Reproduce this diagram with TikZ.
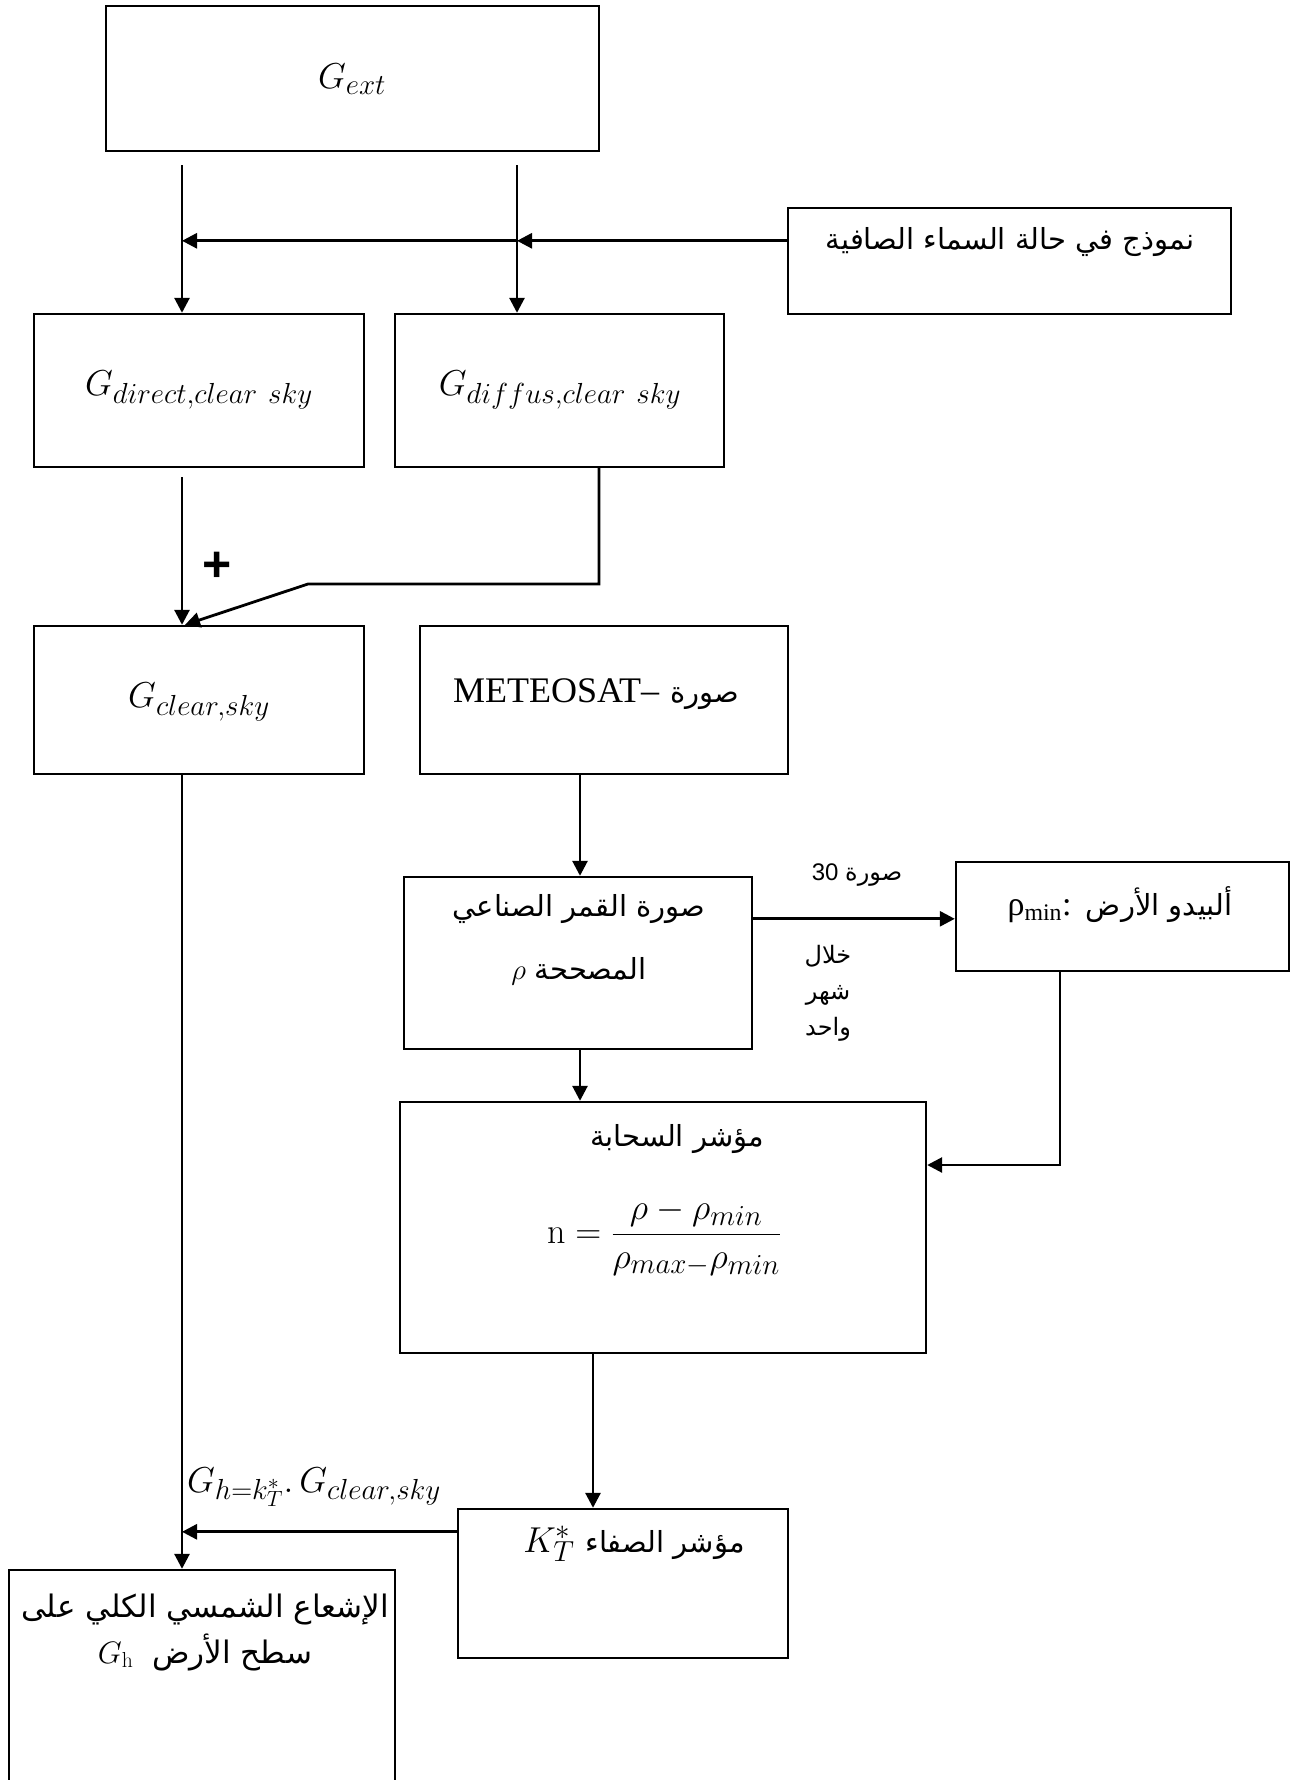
\RequirePackage{fix-cm}
\documentclass[tikz,border=0pt]{standalone}
\usepackage{fontspec}
\usetikzlibrary{arrows.meta,calc}
\TeXXeTstate=1
\newfontfamily\arabicfont[Script=Arabic]{DejaVu Sans}
\newfontfamily\timesfont{Liberation Serif}
\newfontfamily\arialfont{Liberation Sans}
\newfontfamily\arialbold{Liberation Sans Bold}
\DeclareMathSizes{36}{36}{29}{22}
\newcommand{\artxt}[1]{{\fontsize{29}{40}\arabicfont\beginR #1\endR}}
\newcommand{\arbig}[1]{{\fontsize{31}{40}\arabicfont\beginR #1\endR}}
\newcommand{\arsmall}[1]{{\fontsize{24}{30}\arabicfont\beginR #1\endR}}
\tikzset{
  box/.style={draw, line width=2.4pt, rectangle, inner sep=0pt},
  txt/.style={inner sep=0pt, align=center, font=\fontsize{36}{40}\selectfont},
  arr/.style={line width=2.8pt, -{Triangle[length=15pt,width=15pt]}},
}
\begin{document}
\begin{tikzpicture}[x=1pt,y=-1pt]
\useasboundingbox (0,0) rectangle (1292,1780);
\clip (0,0) rectangle (1292,1780);
% boxes
\node[box, minimum width=493pt, minimum height=145pt] (gext) at (352.5,78.5) {};
\node[box, minimum width=443pt, minimum height=106pt] (model) at (1009.5,261) {};
\node[box, minimum width=330pt, minimum height=153pt] (gdir) at (199,390.5) {};
\node[box, minimum width=329pt, minimum height=153pt] (gdif) at (559.5,390.5) {};
\node[box, minimum width=330pt, minimum height=148pt] (gclear) at (199,700) {};
\node[box, minimum width=368pt, minimum height=148pt] (meteo) at (604,700) {};
\node[box, minimum width=348pt, minimum height=172pt] (corr) at (578,963) {};
\node[box, minimum width=333pt, minimum height=109pt] (rhomin) at (1122.5,916.5) {};
\node[box, minimum width=526pt, minimum height=251pt] (cloud) at (663,1227.5) {};
\node[box, minimum width=330pt, minimum height=149pt] (kt) at (623,1583.5) {};
\node[box, minimum width=386pt, minimum height=300pt] (final) at (202,1720) {};
% texts
\node[txt] (tgext) at (352,79) {$G_{ext}$};
\node[txt] (tmodel) at (1010,242) {\artxt{نموذج في حالة السماء الصافية}};
\node[txt] (tgdir) at (199,390) {$G_{direct,clear\ sky}$};
\node[txt] (tgdif) at (560,390) {$G_{diffus,clear\ sky}$};
\node[txt, font=\fontsize{50}{52}\arialbold] (plus) at (217,567) {+};
\node[txt] (tgclear) at (199,702) {$G_{clear,sky}$};
\node[txt] (tmeteo) at (596,694) {{\fontsize{36}{40}\timesfont METEOSAT–} \artxt{صورة}};
\node[txt, font=\fontsize{29}{63}\selectfont] (tcorr) at (579,940) {\artxt{صورة القمر الصناعي}\\ $\rho$ \artxt{المصححة}};
\node[txt] (trho) at (1120,905) {{\fontsize{34}{36}\timesfont ρ\textsubscript{min}:} \artxt{ألبيدو الأرض}};
\node[txt, font=\fontsize{24}{30}\arialfont] (t30) at (857,875) {30 \arsmall{صورة}};
\node[txt, font=\fontsize{24}{36}\selectfont] (tmonth) at (828,993) {\arsmall{خلال}\\ \arsmall{شهر}\\ \arsmall{واحد}};
\node[txt] (tcloud) at (677,1139) {\artxt{مؤشر السحابة}};
\node[txt] (tfrac) at (664,1237) {$\displaystyle \mathrm{n}=\frac{\rho-\rho_{min}}{\rho_{max-}\rho_{min}}$};
\node[txt] (tkt) at (634,1544) {$K_T^*$\ \artxt{مؤشر الصفاء}};
\node[txt] (tgh) at (314,1487) {$G_{h=k_T^*}.\,G_{clear,sky}$};
\node[txt, font=\fontsize{31}{46}\selectfont] (tfinal) at (205,1632) {\arbig{الإشعاع الشمسي الكلي على}\\ $G_{\mathrm{h}}$\ \ \arbig{سطح الأرض}};
% connectors
\coordinate (s1) at (182,165);
\coordinate (s2) at (517,165);
\draw[arr] (s1) -- (s1 |- gdir.north);
\draw[arr] (s2) -- (s2 |- gdif.north);
\coordinate (h1) at ($(model.north west)+(0,34)$);
\draw[arr] (h1) -- (h1 -| s2);
\draw[arr] (h1 -| s2) -- (h1 -| s1);
\coordinate (s3) at (182,477);
\draw[arr] (s3) -- (s3 |- gclear.north);
\coordinate (d1) at (599,584);
\coordinate (d2) at (308,584);
\draw[arr] (d1 |- gdif.south) -- (d1) -- (d2) -- ($(gclear.north)+(-14,0)$);
\coordinate (m1) at (580,774);
\draw[arr] (m1 |- meteo.south) -- (m1 |- corr.north);
\coordinate (r1) at ($(corr.north east)+(0,43)$);
\draw[arr] (r1) -- (r1 -| rhomin.west);
\coordinate (r2) at (1060,1165);
\draw[arr] (r2 |- rhomin.south) -- (r2) -- (r2 -| cloud.east);
\draw[arr] (m1 |- corr.south) -- (m1 |- cloud.north);
\coordinate (c1) at (593,1400);
\draw[arr] (c1 |- cloud.south) -- (c1 |- kt.north);
\coordinate (k1) at ($(kt.north west)+(0,24)$);
\draw[arr] (k1) -- (k1 -| s1);
\draw[arr] (s1 |- gclear.south) -- (s1 |- final.north);
\end{tikzpicture}
\end{document}
